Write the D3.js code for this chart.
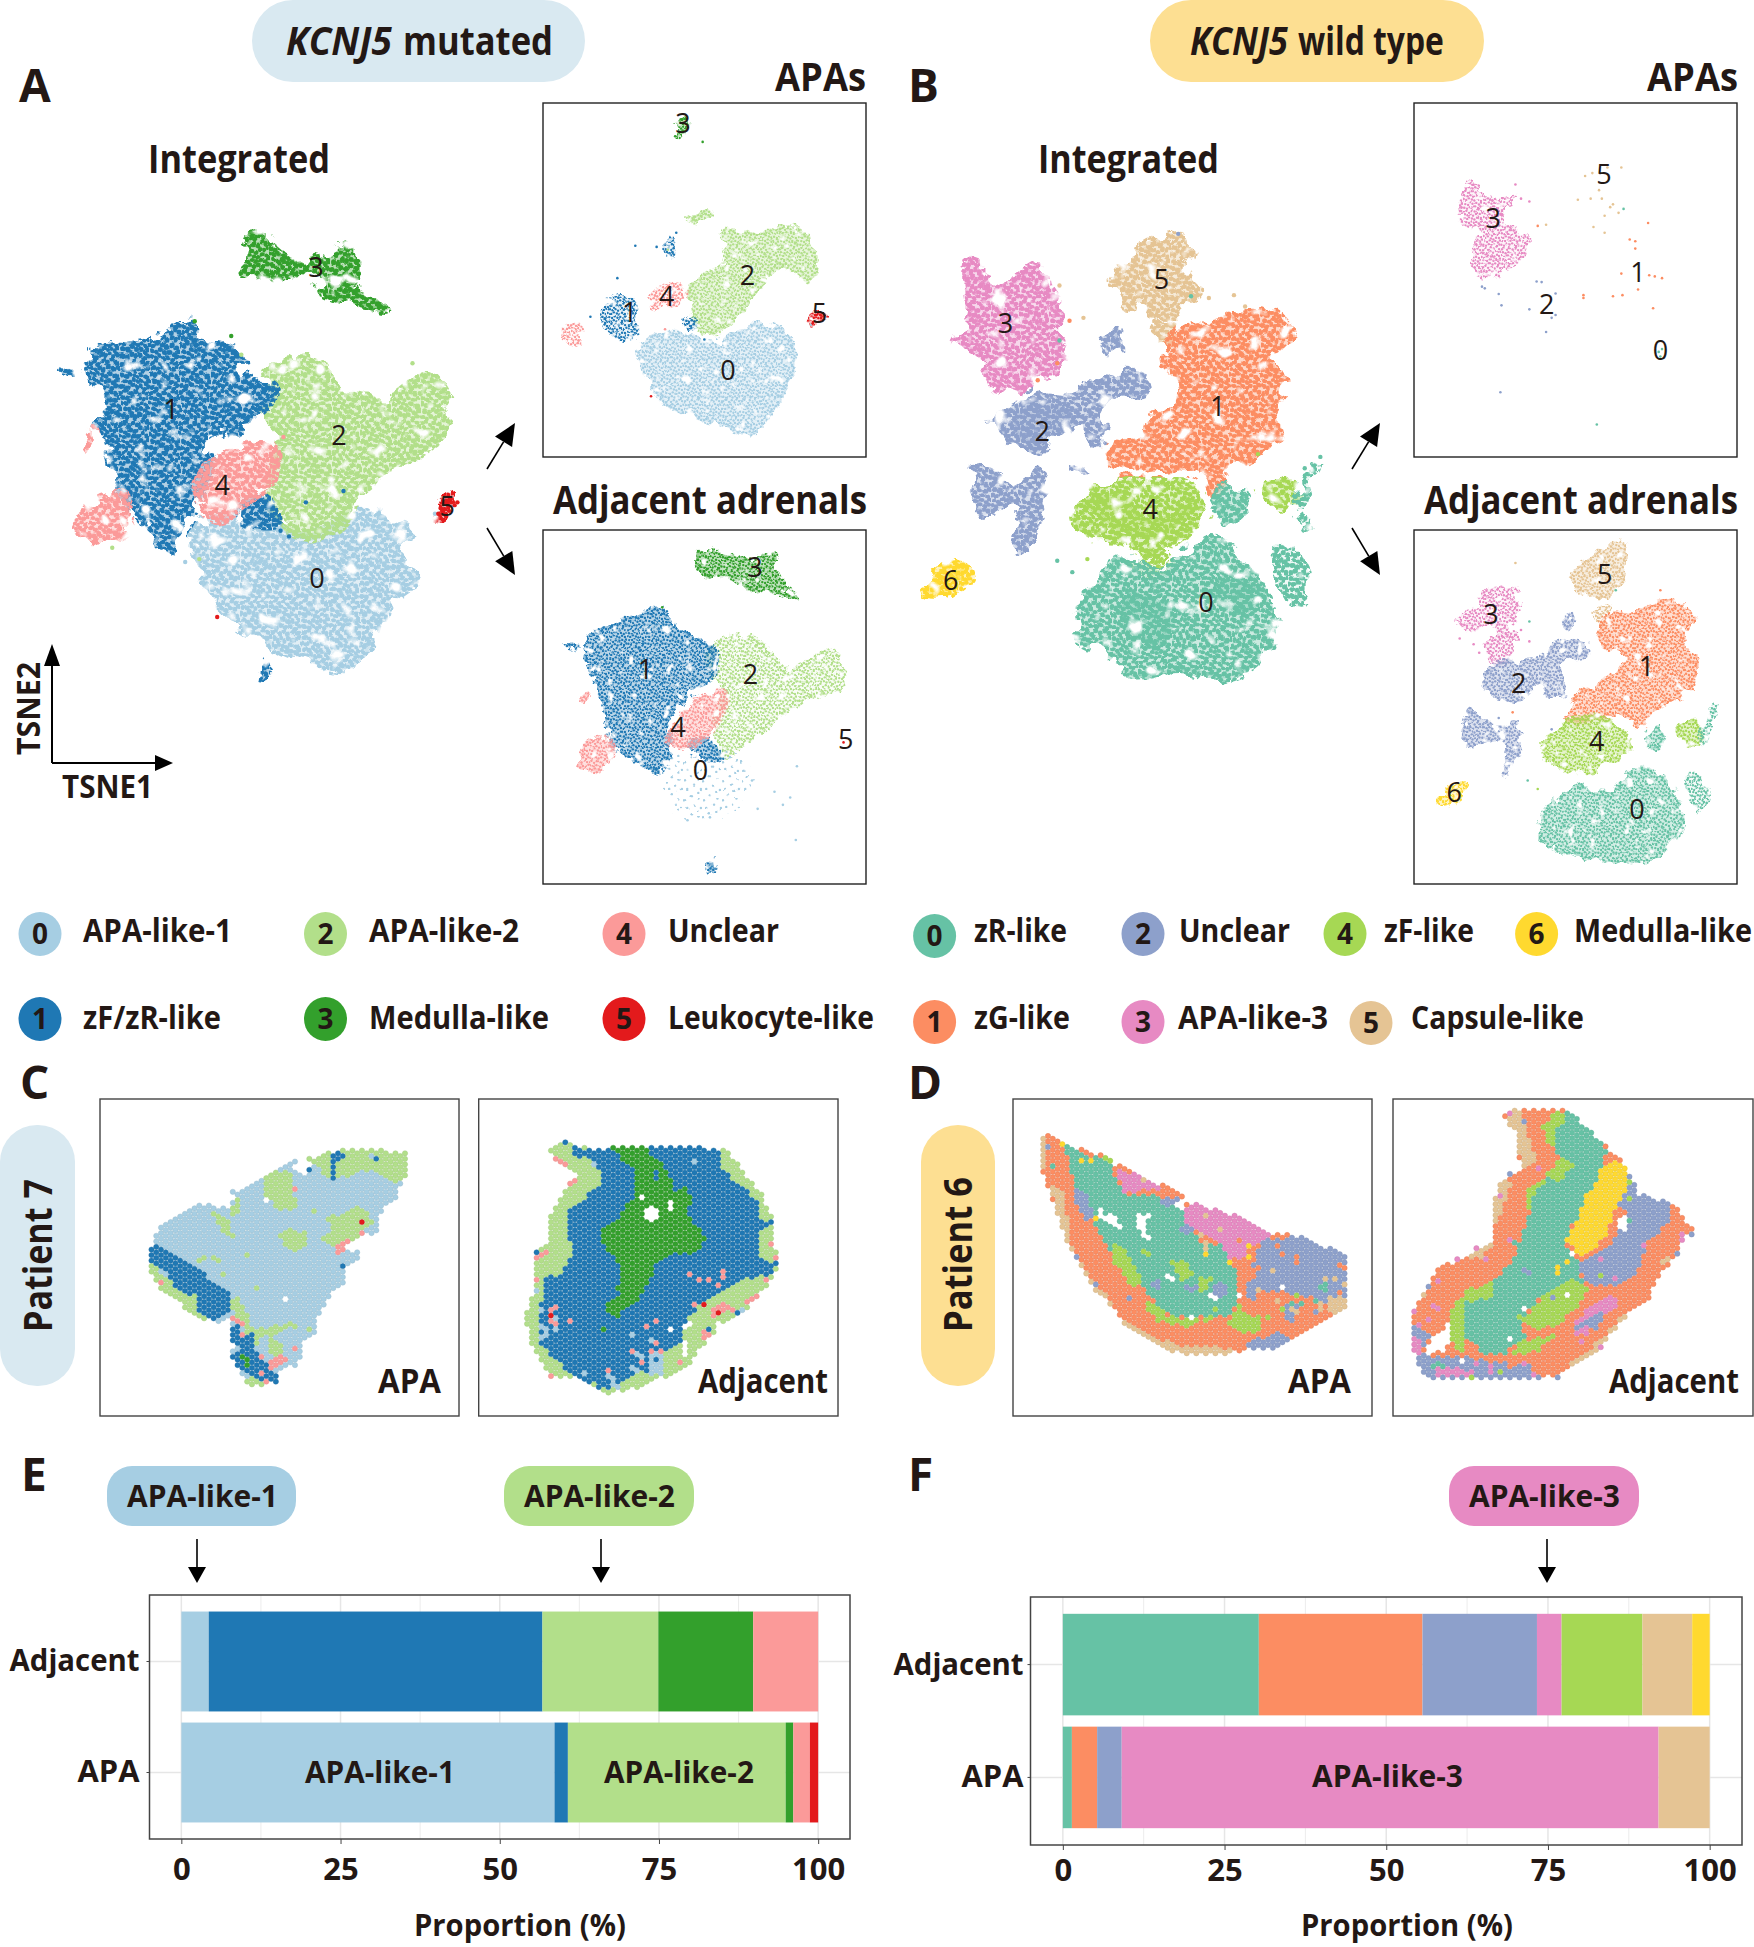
<!DOCTYPE html>
<html><head><meta charset="utf-8">
<script src="https://cdnjs.cloudflare.com/ajax/libs/d3/7.8.5/d3.min.js"></script>
<style>html,body{margin:0;padding:0;background:#fff}svg{display:block}text{font-family:"Open Sans","Noto Sans",sans-serif;fill:#231815}</style>
</head><body><svg id="c" width="1754" height="1947" viewBox="0 0 1754 1947"></svg>
<script>
// ---------- palettes and labels ----------
const mutColors=["#A6CEE3","#1F78B4","#B2DF8A","#33A02C","#FB9A99","#E31A1C"];
const wtColors=["#66C2A5","#FC8D62","#8DA0CB","#E78AC3","#A6D854","#E5C494","#FFD92F"];
const mutNames=["APA-like-1","zF/zR-like","APA-like-2","Medulla-like","Unclear","Leukocyte-like"];
const wtNames=["zR-like","zG-like","Unclear","APA-like-3","zF-like","Capsule-like","Medulla-like"];
// ---------- stacked proportions (%) ----------
const barCategories=["Adjacent","APA"];
const propTicks=[0,25,50,75,100];
const eAdjacent=[4.3,52.4,18.2,14.9,10.2,0];
const eAPA=[58.6,2.1,34.2,1.2,2.6,1.3];
const fAdjacent=[30.3,25.3,17.7,3.8,12.5,7.7,2.7];
const fAPA=[1.4,3.9,3.8,83.0,0,7.9,0];
// ---------- t-SNE cluster regions: [cluster, density, outline] ----------
const mutIntegrated=[
[3,1,[[432,458],[445,415],[475,408],[490,440],[530,460],[575,450],[600,432],[632,440],[637,480],[625,505],[660,520],[690,545],[650,540],[600,525],[570,510],[530,480],[490,490],[445,490]]],
[0,1,[[350,930],[400,910],[500,930],[550,945],[650,900],[730,935],[720,1000],[745,1020],[700,1060],[660,1140],[620,1178],[540,1160],[450,1120],[400,1080],[370,1045]]],
[2,1,[[475,650],[540,625],[590,660],[640,700],[700,700],[760,660],[790,690],[803,750],[760,790],[730,810],[650,860],[600,930],[550,945],[510,925],[480,890],[485,820],[500,770],[470,730],[490,700]]],
[1,1,[[160,640],[180,610],[260,605],[305,575],[335,575],[345,560],[355,600],[400,605],[425,620],[440,670],[485,680],[475,715],[440,745],[420,770],[390,760],[360,780],[375,810],[355,880],[330,930],[310,970],[280,960],[250,910],[215,870],[195,810],[195,770],[170,750],[195,710],[165,680]]],
[1,1,[[108,645],[130,650],[130,662],[115,655]]],
[1,1,[[435,885],[465,880],[495,920],[460,925],[430,910]]],
[1,1,[[462,1197],[476,1165],[474,1195]]],
[4,1,[[365,830],[420,790],[470,775],[490,800],[480,850],[440,880],[390,915],[355,885]]],
[4,1,[[138,930],[175,880],[220,875],[215,955],[175,960],[150,945]]],
[4,1,[[148,790],[163,760],[162,790]]],
[5,1,[[780,890],[800,875],[820,885],[805,912],[780,915]]]];
const mutAPA=[
[0,1,[[1140,600],[1200,585],[1280,600],[1350,570],[1405,590],[1415,650],[1380,720],[1340,765],[1270,745],[1200,720],[1160,680],[1140,630]]],
[2,1,[[1230,500],[1290,465],[1290,405],[1350,410],[1420,400],[1455,450],[1445,495],[1390,470],[1340,530],[1290,580],[1250,585],[1230,540]]],
[2,1,[[1225,385],[1265,372],[1265,388]]],
[1,2,[[1075,540],[1120,520],[1135,570],[1125,600],[1085,585]]],
[1,2,[[1185,425],[1200,420],[1198,450],[1185,445]]],
[1,2,[[1220,565],[1235,565],[1235,580],[1222,578]]],
[4,2,[[1155,535],[1190,500],[1220,510],[1215,530],[1170,545]]],
[4,2,[[1000,590],[1030,568],[1035,605],[1010,600]]],
[3,1,[[1208,212],[1225,210],[1225,230],[1205,240]]],
[5,1,[[1440,570],[1455,545],[1470,555],[1450,575]]]];
const mutAdjacent=[
[3,1,[[1240,993],[1250,968],[1290,975],[1330,985],[1380,975],[1385,1015],[1423,1055],[1380,1045],[1340,1040],[1300,1015],[1260,1015]]],
[2,2,[[1265,1145],[1320,1115],[1375,1150],[1400,1180],[1470,1145],[1490,1150],[1505,1210],[1440,1230],[1380,1270],[1330,1310],[1290,1330],[1275,1270],[1290,1215],[1270,1190]]],
[0,3,[[1190,1330],[1240,1340],[1310,1330],[1340,1380],[1300,1430],[1230,1440],[1195,1420]]],
[1,1,[[1040,1130],[1090,1100],[1150,1080],[1175,1070],[1200,1100],[1250,1130],[1275,1150],[1270,1190],[1230,1225],[1190,1270],[1195,1310],[1175,1360],[1130,1340],[1090,1310],[1075,1240],[1050,1180]]],
[1,1,[[1230,1310],[1260,1305],[1285,1335],[1240,1330]]],
[1,1,[[1005,1133],[1025,1135],[1025,1143]]],
[1,1,[[1263,1535],[1271,1510],[1270,1535]]],
[4,1,[[1190,1300],[1240,1235],[1290,1220],[1280,1270],[1240,1310],[1200,1315]]],
[4,1,[[1030,1345],[1055,1300],[1090,1310],[1080,1355],[1050,1358]]],
[4,1,[[1035,1235],[1045,1215],[1045,1235]]]];
const wtIntegrated=[
[3,1,[[155,465],[175,455],[180,490],[230,500],[285,465],[300,510],[330,560],[320,590],[330,640],[280,670],[240,695],[205,680],[180,630],[135,605],[160,570],[155,530]]],
[5,1,[[420,490],[470,435],[530,415],[560,425],[550,480],[575,500],[560,530],[500,560],[440,535]]],
[5,1,[[495,575],[530,565],[515,610],[505,615]]],
[1,1,[[505,640],[530,590],[600,570],[680,545],[720,565],[742,605],[700,630],[735,675],[710,730],[715,780],[640,820],[600,865],[570,830],[500,830],[420,830],[410,800],[440,770],[510,720],[540,690],[530,660]]],
[2,1,[[200,740],[240,720],[290,690],[350,690],[410,660],[470,660],[475,690],[400,710],[410,770],[385,790],[360,750],[330,760],[290,790],[240,790],[220,765]]],
[2,1,[[240,740],[300,710],[340,740],[300,780],[250,770]]],
[2,1,[[155,880],[175,815],[240,850],[280,830],[300,870],[280,920],[262,975],[245,965],[250,920],[240,890],[180,905]]],
[2,1,[[345,815],[375,835],[350,830]]],
[2,1,[[405,595],[420,580],[430,620],[405,615]]],
[4,1,[[350,905],[380,860],[430,850],[500,850],[550,850],[585,910],[530,950],[490,975],[430,950],[370,945]]],
[4,1,[[370,885],[430,880],[480,920],[560,890],[500,945],[430,930]]],
[4,2,[[450,985],[500,975],[520,990],[490,1010]]],
[4,1,[[685,860],[725,845],[750,880],[720,895]]],
[0,1,[[345,1075],[400,1020],[430,980],[510,1010],[560,960],[610,950],[660,1000],[695,1050],[710,1110],[670,1170],[620,1195],[540,1185],[460,1195],[400,1150],[360,1130]]],
[0,1,[[450,1050],[520,1080],[500,1130],[440,1100]]],
[0,1,[[610,1020],[680,1040],[650,1080],[600,1050]]],
[0,2,[[705,970],[730,965],[770,1025],[745,1070],[715,1015]]],
[0,1,[[605,880],[630,850],[660,880],[640,925],[610,905]]],
[0,2,[[750,870],[790,805],[770,860],[755,905]]],
[0,2,[[745,915],[775,925],[745,925]]],
[6,1,[[78,1048],[110,1005],[165,990],[165,1020],[125,1048]]],
[6,1,[[90,1040],[120,1015],[155,1000],[120,1038]]]];
const wtAPA=[
[3,2,[[1045,340],[1060,320],[1100,350],[1140,345],[1120,385],[1165,425],[1130,470],[1090,490],[1055,460],[1075,400],[1045,395]]]];
const wtAdjacent=[
[3,2,[[1030,1090],[1070,1070],[1085,1040],[1145,1040],[1140,1085],[1110,1120],[1100,1100],[1060,1110]]],
[3,2,[[1090,1130],[1140,1120],[1130,1160],[1100,1170]]],
[5,1,[[1237,1015],[1270,985],[1310,955],[1335,955],[1335,1020],[1300,1055],[1260,1045]]],
[5,2,[[1285,1075],[1310,1070],[1295,1105]]],
[1,1,[[1290,1130],[1300,1090],[1360,1075],[1420,1055],[1465,1090],[1440,1130],[1465,1160],[1450,1220],[1400,1245],[1365,1285],[1340,1260],[1235,1270],[1240,1235],[1310,1190],[1340,1160]]],
[2,1,[[1080,1195],[1120,1165],[1180,1160],[1220,1130],[1270,1135],[1265,1155],[1225,1165],[1230,1220],[1205,1230],[1180,1205],[1140,1240],[1100,1225]]],
[2,1,[[1045,1300],[1060,1250],[1105,1280],[1140,1270],[1150,1300],[1125,1365],[1115,1360],[1120,1310],[1060,1315]]],
[2,1,[[1225,1100],[1240,1080],[1240,1105]]],
[4,1,[[1188,1315],[1220,1280],[1300,1265],[1350,1315],[1300,1350],[1270,1365],[1200,1340]]],
[4,1,[[1428,1285],[1460,1270],[1475,1300],[1450,1315]]],
[0,1,[[1180,1460],[1240,1385],[1310,1395],[1360,1350],[1420,1385],[1440,1450],[1400,1510],[1330,1520],[1240,1505],[1195,1490]]],
[0,2,[[1445,1370],[1465,1365],[1488,1405],[1470,1430],[1450,1400]]],
[0,1,[[1375,1300],[1395,1280],[1405,1310],[1385,1320]]],
[0,2,[[1475,1290],[1500,1240],[1490,1280],[1475,1310]]],
[6,1,[[990,1420],[1025,1385],[1055,1378],[1040,1410],[1010,1420]]]];
// ---------- individually readable cells: [cluster, x, y] ----------
const mutIntegratedCells=[[5,387,1087],[3,347,566],[3,412,592],[2,430,625],[2,735,640],[1,612,865],[1,545,885],[0,775,905],[4,505,770],[2,200,965],[1,515,945],[1,500,935],[2,355,985],[0,330,990],[0,390,1065],[5,785,895],[5,795,882],[5,805,885],[5,815,885],[5,790,905],[5,800,900],[5,781,905],[5,810,890],[5,795,910],[5,803,878]];
const mutAPACells=[[5,1160,698],[1,1132,433],[1,1100,490],[1,1052,558],[1,1170,435],[1,1205,410],[3,1252,250],[3,1203,240],[4,1185,580],[1,1255,598],[2,1190,440],[2,1250,382],[0,1445,572],[5,1450,560],[5,1455,555],[5,1460,550],[5,1448,570],[5,1463,556]];
const mutAdjacentCells=[[5,1503,1308],[0,1418,1480],[0,1408,1405],[0,1395,1418],[0,1420,1350],[0,1350,1425],[0,1225,1445],[0,1265,1440],[0,1340,1375],[0,1380,1395],[2,1445,1225],[3,1180,1070]];
const wtIntegratedCells=[[0,318,988],[0,345,1008],[4,372,985],[5,365,560],[1,340,565],[0,322,600],[1,318,640],[1,283,670],[5,322,503],[5,590,525],[5,635,520],[5,655,540],[0,558,522],[2,535,412],[4,678,800],[0,790,805],[0,762,825]];
const wtAPACells=[[5,1265,310],[5,1278,305],[5,1305,295],[5,1330,295],[5,1252,352],[5,1275,350],[5,1295,350],[5,1310,365],[5,1325,375],[5,1300,380],[5,1280,400],[5,1300,410],[5,1315,360],[5,1290,335],[1,1378,393],[1,1345,422],[1,1355,425],[1,1355,438],[1,1330,482],[1,1380,485],[1,1390,487],[1,1403,490],[1,1360,510],[1,1387,543],[1,1262,520],[1,1262,525],[1,1315,522],[1,1332,520],[2,1080,505],[2,1085,508],[2,1110,518],[2,1115,538],[2,1165,545],[2,1178,496],[2,1187,497],[2,1212,517],[2,1205,560],[2,1212,555],[2,1195,585],[2,1113,691],[0,1334,368],[0,1400,628],[0,1397,620],[0,1403,615],[0,1286,748],[3,1150,350],[3,1165,355],[3,1140,325],[1,1180,398],[5,1195,396]];
const wtAdjacentCells=[[5,1140,992],[0,1165,1095],[0,1162,1375],[4,1180,1390],[1,1135,1255],[2,1205,1285],[2,1110,1265],[0,1320,1040],[1,1400,1040],[3,1040,1125],[3,1065,1135],[3,1075,1150],[3,1165,1130],[3,1150,1110]];
// ---------- cluster-number positions ----------
const mutIntegratedLabels=[[565,1020],[305,722],[604,768],[563,472],[396,855],[797,893]];
const mutAPALabels=[[1297,652],[1122,550],[1332,485],[1217,218],[1188,522],[1460,552]];
const mutAdjacentLabels=[[1248,1358],[1150,1180],[1337,1188],[1345,1000],[1208,1282],[1507,1302]];
const wtIntegratedLabels=[[585,1062],[606,717],[291,760],[225,570],[485,898],[505,493],[127,1022]];
const wtAPALabels=[[1400,618],[1360,480],[1196,537],[1100,385],null,[1299,307],null];
const wtAdjacentLabels=[[1358,1427],[1375,1175],[1146,1205],[1096,1083],[1286,1307],[1300,1013],[1030,1397]];
// ---------- spatial domains: [cluster or null for a hole, outline]; later entries paint over earlier ones ----------
const p7APA=[
[0,[[395,303],[430,295],[490,262],[545,235],[590,212],[600,215],[575,240],[610,255],[640,250],[630,205],[690,185],[760,178],[925,185],[925,250],[905,280],[893,330],[870,340],[840,380],[840,420],[795,440],[755,465],[730,470],[785,490],[770,515],[745,530],[730,590],[700,610],[660,680],[650,730],[620,745],[605,800],[590,830],[550,838],[530,870],[500,885],[470,885],[435,860],[400,810],[395,770],[420,765],[395,745],[390,690],[345,695],[310,680],[265,650],[235,625],[205,610],[170,570],[150,530],[148,490],[165,450],[175,415],[230,375],[265,350],[310,342],[355,350],[395,360],[405,325]]],
[2,[[630,205],[690,185],[760,178],[925,185],[925,250],[905,280],[860,260],[800,240],[740,262],[680,265],[670,240],[640,225]]],
[2,[[490,265],[545,240],[585,245],[580,300],[600,345],[540,368],[515,335],[490,320]]],
[2,[[403,325],[430,330],[425,365],[400,380]]],
[2,[[335,360],[385,380],[390,415],[415,435],[395,445],[370,425],[345,385]]],
[2,[[535,435],[578,410],[630,435],[625,470],[595,490],[565,485],[555,450]]],
[2,[[660,445],[700,430],[700,380],[770,350],[815,375],[825,400],[790,425],[790,440],[740,455],[715,480],[685,465]]],
[2,[[150,520],[190,550],[240,600],[290,620],[295,660],[320,690],[300,682],[265,660],[235,630],[205,620],[165,575]]],
[2,[[395,620],[425,630],[450,680],[465,720],[520,710],[585,695],[590,710],[530,730],[490,745],[470,780],[465,760],[440,720],[405,690]]],
[2,[[500,780],[520,740],[560,770],[545,790],[510,800]]],
[2,[[430,860],[470,860],[505,880],[470,892],[440,875]]],
[1,[[145,490],[165,450],[180,470],[290,530],[335,570],[390,610],[395,670],[345,700],[330,680],[290,660],[290,615],[250,610],[215,570],[185,530],[150,515]]],
[1,[[392,700],[415,705],[425,730],[460,725],[465,780],[500,820],[535,850],[530,878],[500,882],[470,865],[435,850],[400,810],[395,790],[425,775],[395,745]]],
[1,[[685,203],[715,188],[738,200],[715,213],[715,268],[698,268],[698,213]]],
[1,[[612,240],[635,230],[658,245],[620,252]]],
[4,[[503,810],[540,788],[562,805],[550,830],[512,848]]],
[4,[[712,455],[730,455],[745,480],[718,497]]],
[null,[[498,330],[530,320],[515,340]]]];
const p7APASpots=[[593,304,4],[833,206,1],[792,392,5],[792,437,4],[750,459,4],[737,526,1],[184,581,4],[553,623,null],[397,692,4],[411,700,4],[425,707,4],[425,737,4],[483,797,4],[582,773,4],[484,856,4],[498,878,4],[426,797,3],[440,804,3],[440,818,3],[438,491,2],[368,558,2],[467,596,2],[624,722,2],[650,364,2],[692,385,2],[820,198,0],[310,498,2],[296,506,2],[340,498,2],[354,506,2]];
const p7Adj=[
[2,[[215,180],[245,158],[265,152],[285,168],[330,175],[520,172],[600,165],[660,170],[720,182],[755,180],[760,200],[790,235],[810,270],[850,305],[862,350],[890,375],[885,420],[890,480],[905,495],[905,535],[885,560],[860,595],[815,650],[770,680],[720,700],[700,740],[670,775],[640,815],[580,850],[520,880],[430,905],[370,915],[345,885],[290,865],[220,855],[185,815],[165,770],[145,710],[145,660],[165,620],[170,530],[170,490],[215,460],[215,385],[245,325],[275,285],[300,265],[250,215],[225,205]]],
[1,[[270,170],[330,175],[520,172],[600,165],[660,170],[725,185],[730,225],[760,270],[800,290],[845,340],[850,380],[880,400],[850,420],[845,500],[890,530],[885,560],[850,550],[800,570],[730,610],[660,650],[640,680],[620,700],[615,750],[560,780],[560,820],[510,840],[450,870],[400,895],[365,895],[345,880],[290,860],[225,800],[185,760],[185,680],[200,570],[250,545],[285,490],[270,440],[275,350],[305,335],[370,285],[370,240],[330,205],[290,195]]],
[3,[[400,170],[510,172],[515,195],[555,215],[565,250],[590,270],[590,300],[625,295],[645,320],[620,370],[640,390],[670,420],[685,450],[655,490],[590,490],[530,515],[530,555],[500,590],[485,640],[440,650],[415,685],[390,670],[390,640],[430,620],[415,590],[435,555],[420,520],[385,475],[360,460],[370,425],[430,375],[465,320],[470,240],[430,205]]],
[1,[[518,228],[540,235],[545,275],[530,275]]],
[3,[[372,703],[387,703],[387,730],[372,730]]],
[0,[[470,775],[495,795],[495,812],[478,810]]],
[0,[[517,735],[533,737],[533,765],[517,765]]],
[0,[[520,790],[555,770],[555,850],[520,855]]],
[0,[[378,852],[415,857],[420,888],[438,893],[410,896]]],
[0,[[178,700],[215,705],[210,745],[190,750]]],
[4,[[800,640],[860,590],[860,525],[835,510],[850,520],[868,570],[820,645]]],
[4,[[700,680],[770,660],[740,625],[710,650]]],
[4,[[665,770],[700,740],[680,710],[665,740]]],
[4,[[580,845],[640,810],[610,810]]],
[null,[[500,365],[520,345],[545,365],[540,395],[515,400],[500,385]]],
[null,[[572,330],[585,330],[585,358],[572,358]]],
[null,[[620,710],[650,690],[640,700],[628,720]]],
[null,[[620,750],[632,750],[635,795],[620,795]]]];
const p7AdjSpots=[[262,157,1],[233,204,4],[248,211,4],[262,218,4],[347,218,0],[650,209,0],[277,285,4],[291,277,4],[177,487,1],[177,502,4],[191,495,4],[205,487,4],[177,562,4],[178,606,0],[192,659,0],[222,674,5],[222,659,4],[236,651,4],[236,681,0],[222,688,4],[236,695,4],[278,688,4],[236,725,0],[638,559,4],[666,574,4],[694,574,4],[738,551,4],[738,566,4],[725,590,4],[652,641,4],[681,641,5],[725,664,5],[537,687,4],[509,717,4],[581,722,null],[492,321,null],[465,739,0],[396,836,4],[322,844,0],[222,852,4],[881,401,1],[896,497,4],[896,513,1],[881,462,4],[782,662,1],[796,656,0],[696,722,1],[539,805,1],[553,784,4],[538,760,4],[466,785,4],[495,815,4],[524,785,4],[466,830,0],[480,838,0],[193,733,1]];
const p6APA=[
[1,[[85,145],[108,130],[150,155],[260,200],[340,235],[440,280],[510,310],[510,335],[490,345],[530,335],[680,380],[780,430],[880,440],[1005,500],[1008,650],[960,675],[900,715],[840,755],[790,775],[660,785],[540,795],[470,775],[400,740],[340,700],[290,640],[240,590],[195,510],[160,450],[130,350],[100,270],[85,230]]],
[5,[[85,145],[100,145],[100,235],[85,235]]],
[5,[[115,290],[160,300],[150,355],[175,400],[165,465],[190,480],[215,520],[230,570],[285,610],[320,680],[370,710],[430,745],[520,770],[670,775],[640,790],[540,798],[470,780],[400,742],[340,702],[290,642],[240,592],[195,512],[160,452],[130,352],[115,300]]],
[0,[[155,165],[260,205],[300,225],[310,260],[330,310],[440,320],[510,360],[515,400],[560,450],[640,470],[680,560],[680,640],[640,680],[560,680],[480,680],[430,640],[390,590],[340,540],[290,480],[270,450],[245,400],[220,330],[185,290],[175,220]]],
[3,[[315,230],[440,285],[480,300],[440,295],[390,295],[350,310],[330,305]]],
[3,[[515,360],[535,335],[680,380],[780,430],[745,465],[720,470],[690,515],[650,500],[630,460],[590,440],[545,420],[520,400]]],
[2,[[700,600],[750,450],[880,440],[1005,500],[1008,650],[960,640],[880,620],[800,600],[770,620],[740,650],[700,620]]],
[2,[[700,760],[800,730],[840,750],[790,775],[700,775]]],
[1,[[745,600],[800,605],[860,625],[880,620],[960,640],[930,680],[860,720],[800,710],[780,680],[720,640]]],
[5,[[940,650],[1005,610],[1005,650],[960,675]]],
[2,[[815,640],[860,640],[850,700],[815,690]]],
[2,[[940,600],[1005,560],[1005,575],[950,620]]],
[0,[[925,600],[945,560],[950,600],[930,620]]],
[2,[[500,420],[520,400],[545,420],[530,435]]],
[2,[[430,330],[510,320],[500,350],[450,345]]],
[4,[[295,470],[330,460],[350,490],[390,570],[360,600],[330,540],[300,510]]],
[4,[[380,480],[420,480],[430,500],[385,500]]],
[4,[[470,510],[530,510],[540,550],[510,570]]],
[4,[[550,560],[600,560],[590,610],[560,600]]],
[4,[[400,620],[450,650],[470,680],[560,690],[600,670],[615,650],[600,690],[520,710],[430,690],[400,650]]],
[4,[[650,700],[680,640],[700,670],[750,680],[740,725],[670,725]]],
[2,[[185,295],[235,320],[240,380],[215,390],[180,320]]],
[2,[[430,540],[445,600],[420,590]]],
[2,[[520,590],[560,590],[540,610]]],
[2,[[600,580],[650,580],[640,620],[610,620]]],
[null,[[245,352],[265,355],[270,375],[300,365],[320,380],[325,415],[300,415],[270,380],[245,365]]],
[null,[[372,375],[415,375],[395,400],[415,450],[400,450],[375,410]]],
[null,[[460,545],[510,570],[505,578],[460,560]]],
[null,[[590,610],[625,628],[620,635],[585,620]]],
[null,[[670,610],[695,620],[695,630],[670,620]]],
[null,[[800,645],[825,655],[820,662],[797,655]]],
[null,[[810,590],[825,595],[820,605],[810,600]]],
[null,[[528,682],[543,682],[543,692],[528,692]]],
[null,[[490,345],[520,335],[520,360],[495,355]]],
[null,[[100,222],[115,222],[115,232],[100,232]]]];
const p6APASpots=[[150,160,6],[207,204,6],[235,204,6],[250,384,6],[576,491,6],[647,512,6],[717,476,6],[717,505,6],[391,267,5],[575,375,5],[618,425,5],[562,440,5],[575,462,5],[575,476,5],[788,540,5],[263,202,1],[122,232,0],[108,167,2],[278,210,4],[292,217,4],[675,455,1],[802,475,1],[816,497,1],[858,505,1],[858,520,1],[945,575,5],[350,622,2],[252,588,2],[195,500,2],[800,510,2],[960,620,5],[985,640,5],[1000,590,5],[930,640,5],[905,640,5],[860,660,5],[845,655,5],[905,665,2],[920,655,5],[985,520,1],[1000,535,1],[985,605,1],[1000,620,2],[972,575,5],[930,590,0],[916,625,0],[875,635,0],[845,640,0],[860,620,4],[805,662,4],[775,690,4],[790,640,5],[746,605,5],[760,610,1],[690,592,1],[718,560,1],[730,545,1],[745,530,1]];
const p6Adj=[
[1,[[332,72],[360,55],[485,55],[530,60],[600,130],[660,185],[700,225],[720,270],[740,310],[830,335],[860,355],[885,400],[905,420],[885,440],[860,480],[830,525],[795,570],[770,625],[700,680],[640,755],[590,800],[510,850],[440,865],[130,865],[85,845],[65,790],[65,660],[110,575],[130,540],[240,490],[300,450],[310,400],[310,330],[320,280],[385,240],[375,140],[355,100]]],
[5,[[340,70],[390,55],[400,125],[425,175],[430,225],[385,240],[378,140],[350,100]]],
[5,[[325,280],[360,270],[340,320],[335,370],[310,400],[305,330]]],
[5,[[225,495],[300,450],[310,465],[260,510]]],
[0,[[500,65],[530,60],[600,130],[650,180],[625,230],[620,275],[590,310],[570,370],[530,420],[520,470],[560,520],[575,590],[520,580],[450,620],[410,660],[380,690],[400,740],[340,790],[280,790],[220,745],[215,640],[265,600],[330,545],[375,490],[395,420],[420,340],[420,300],[480,260],[510,230],[490,180],[490,100]]],
[4,[[450,110],[490,65],[530,90],[495,110],[490,170],[510,175],[470,170]]],
[4,[[410,300],[480,240],[510,200],[550,225],[520,250],[510,270],[470,265],[430,300],[420,340],[410,360]]],
[4,[[180,650],[230,600],[300,570],[300,620],[220,640],[220,740],[210,785],[185,770],[170,690]]],
[4,[[450,625],[540,560],[590,600],[560,650],[500,700],[440,720],[380,690],[370,680],[410,670]]],
[4,[[345,790],[400,750],[460,740],[495,730],[440,785],[390,790]]],
[2,[[560,520],[650,470],[690,400],[700,360],[680,340],[710,250],[740,310],[830,335],[830,400],[770,450],[750,510],[720,570],[650,590],[600,580],[575,560]]],
[6,[[625,235],[670,205],[710,240],[695,320],[670,350],[640,440],[600,480],[560,495],[525,450],[530,420],[570,385],[565,365],[585,310],[625,270]]],
[2,[[65,700],[125,740],[90,770],[65,770]]],
[2,[[65,790],[125,800],[200,800],[340,820],[440,830],[440,865],[130,865],[85,845]]],
[3,[[610,640],[650,610],[680,640],[620,700],[560,740],[590,770],[560,760],[540,700]]],
[3,[[65,740],[90,740],[90,790],[65,790]]],
[3,[[130,825],[180,840],[250,840],[250,860],[130,860]]],
[0,[[120,825],[165,815],[160,830],[125,835]]],
[2,[[540,720],[590,690],[620,660],[640,690],[610,720],[570,710]]],
[5,[[540,810],[590,780],[640,740],[690,680],[770,630],[770,570],[780,570],[770,625],[700,680],[640,755],[590,800],[540,830]]],
[null,[[95,770],[130,740],[170,695],[180,700],[175,750],[150,785],[100,795]]],
[null,[[680,390],[695,372],[710,400],[700,420],[680,410]]],
[null,[[200,805],[225,800],[220,812],[195,815]]],
[null,[[395,650],[410,645],[410,670],[395,672]]],
[null,[[525,610],[540,610],[540,620],[525,620]]],
[null,[[352,742],[365,742],[365,752],[352,752]]],
[null,[[535,488],[552,488],[552,498],[535,498]]]];
const p6AdjSpots=[[905,425,2],[353,256,2],[325,314,3],[355,68,3],[397,90,2],[442,227,3],[371,450,0],[356,443,3],[631,507,3],[631,550,4],[675,570,3],[717,275,4],[717,333,4],[715,390,0],[502,527,6],[502,541,6],[530,514,6],[487,621,2],[417,556,2],[402,535,2],[285,508,3],[256,478,3],[200,500,3],[142,566,3],[112,598,2],[97,617,5],[100,680,1],[127,645,3],[300,850,3],[420,835,1],[490,855,2],[760,470,3],[850,495,2],[875,440,3],[875,455,3],[832,505,5],[818,515,5],[71,660,3],[85,700,3],[114,692,3],[142,650,3],[170,840,3],[200,845,3],[243,860,4],[258,825,3],[300,825,3],[330,840,4],[360,830,1],[390,825,3],[420,850,3],[445,850,1],[475,840,1],[560,695,3],[590,735,3],[620,770,3]];

// ---------- page ----------
const svg=d3.select("#c");
const defs=svg.append("defs");
const INK="#231815";
function fit(t,x,y,len,rot){ // squeeze a text to a measured width without overrunning its box
  const nat=t.node().getComputedTextLength();
  const sx=len?len/nat:1;
  t.attr("x",0).attr("y",0).attr("transform",`translate(${x},${y})${rot!=null?` rotate(${rot})`:""} scale(${sx},1)`);
}
function T(x,y,s,size,opt={}){ // y = baseline
  const t=svg.append("text").attr("font-size",size)
   .attr("font-weight",opt.w||700).attr("text-anchor",opt.a||"start").text(s);
  if(opt.i)t.attr("font-style","italic");
  fit(t,x,y,opt.len,opt.rot);
  return t;
}
// zoomed-reading scales -> page pixels
const mx=d3.scaleLinear().domain([0,1568]).range([0,880]);
const my=d3.scaleLinear().domain([0,1568]).range([0,890]);
const wx=d3.scaleLinear().domain([0,1568]).range([880,1754]);
const tileDots=[[.05,.12],[.18,.04],[.32,.15],[.46,.06],[.61,.13],[.76,.03],[.9,.11],[.1,.28],[.24,.33],[.39,.27],[.53,.35],[.68,.26],[.83,.31],[.97,.25],[.03,.47],[.17,.52],[.31,.44],[.47,.5],[.6,.55],[.74,.46],[.89,.53],[.12,.69],[.27,.74],[.41,.65],[.55,.72],[.7,.68],[.84,.76],[.95,.66],[.07,.88],[.21,.93],[.36,.85],[.5,.92],[.64,.86],[.79,.95],[.92,.87]];
const made=new Set();
function pattern(col,big,d){
  const id=`p${col.slice(1)}${big?"b":"s"}${d}`;
  if(made.has(id))return id; made.add(id);
  const S=big?30:19, r=big?2.5:1.2;
  const p=defs.append("pattern").attr("id",id).attr("patternUnits","userSpaceOnUse").attr("width",S).attr("height",S);
  p.selectAll("circle").data(tileDots.filter((_,i)=>d<3||i%5===0)).join("circle")
    .attr("cx",q=>q[0]*S).attr("cy",q=>q[1]*S).attr("r",r).attr("fill",col);
  return id;
}
function pageFilter(id){
  return defs.append("filter").attr("id",id).attr("filterUnits","userSpaceOnUse")
    .attr("x",0).attr("y",0).attr("width",1754).attr("height",1947).attr("color-interpolation-filters","sRGB");
}
function edgeFilter(id,freq,scale,seed){ // lobed cluster edges, a few thin pockets
  const f=pageFilter(id);
  f.append("feTurbulence").attr("type","fractalNoise").attr("baseFrequency",freq).attr("numOctaves",3).attr("seed",seed).attr("result","n");
  f.append("feDisplacementMap").attr("in","SourceGraphic").attr("in2","n").attr("scale",scale).attr("xChannelSelector","R").attr("yChannelSelector","G").attr("result","d");
  f.append("feTurbulence").attr("type","fractalNoise").attr("baseFrequency",freq*1.3).attr("numOctaves",2).attr("seed",seed+5).attr("result","m");
  f.append("feColorMatrix").attr("in","m").attr("type","matrix").attr("values","0 0 0 0 0  0 0 0 0 0  0 0 0 0 0  7 0 0 0 -1.7").attr("result","mask");
  f.append("feComposite").attr("in","d").attr("in2","mask").attr("operator","in");
}
function dotFilter(id,freq,scale,seed){ // breaks up the repeat of the dot tile
  const f=pageFilter(id);
  f.append("feTurbulence").attr("type","fractalNoise").attr("baseFrequency",freq).attr("numOctaves",1).attr("seed",seed).attr("result","n");
  f.append("feDisplacementMap").attr("in","SourceGraphic").attr("in2","n").attr("scale",scale).attr("xChannelSelector","R").attr("yChannelSelector","G");
}
edgeFilter("edgeB",.045,34,3); edgeFilter("edgeS",.08,20,8);
dotFilter("dotB",.05,11,11); dotFilter("dotS",.08,6,12);
const curve=d3.line().curve(d3.curveCatmullRomClosed.alpha(.5));
let maskN=0;
function scatter(shapes,cells,labels,cols,X,big){
  const line=curve.x(p=>X(p[0])).y(p=>my(p[1]));
  const mid=`mask${maskN++}`;
  const mg=defs.append("mask").attr("id",mid).attr("maskUnits","userSpaceOnUse").attr("x",0).attr("y",0).attr("width",1754).attr("height",1947)
    .append("g").attr("filter",`url(#${big?"edgeB":"edgeS"})`);
  const outer=svg.append("g").attr("mask",`url(#${mid})`);
  const g=outer.append("g").attr("filter",`url(#${big?"dotB":"dotS"})`);
  const under=big?[0,.34,.1,0]:[0,.3,.08,0];
  const grow=big?12:7;
  shapes.forEach(([c,d,pts])=>{
    const col=cols[c], path=line(pts);
    mg.append("path").attr("d",path).attr("fill","#fff").attr("stroke","#fff").attr("stroke-width",big?3:1.5);
    const pat=`url(#${pattern(col,big,d)})`;
    if(under[d]>0)g.append("path").attr("d",path).attr("fill",col).attr("fill-opacity",under[d]).attr("stroke",col).attr("stroke-opacity",under[d]).attr("stroke-width",grow/2);
    g.append("path").attr("d",path).attr("fill",pat).attr("stroke",pat).attr("stroke-width",grow);
  });
  svg.append("g").selectAll("circle").data(cells).join("circle")
    .attr("cx",d=>X(d[1])).attr("cy",d=>my(d[2])).attr("r",big?2.2:1.3).attr("fill",d=>cols[d[0]]);
  labels.forEach((p,i)=>{ if(!p)return;
    T(X(p[0]),my(p[1])+9.5,String(i),27,{w:400,a:"middle"}).attr("fill","#111");
  });
}
function frame(x0,y0,x1,y1,col,w){
  svg.append("rect").attr("x",x0).attr("y",y0).attr("width",x1-x0).attr("height",y1-y0)
   .attr("fill","none").attr("stroke",col||"#222").attr("stroke-width",w||1.4);
}
function arrow(x1,y1,x2,y2,hl,hw,sw){
  const a=Math.atan2(y2-y1,x2-x1),c=Math.cos(a),s=Math.sin(a);
  const bx=x2-hl*c,by=y2-hl*s;
  svg.append("line").attr("x1",x1).attr("y1",y1).attr("x2",bx).attr("y2",by).attr("stroke","#000").attr("stroke-width",sw||1.6);
  svg.append("path").attr("d",`M${x2},${y2}L${bx-s*hw/2},${by+c*hw/2}L${bx+s*hw/2},${by-c*hw/2}Z`).attr("fill","#000");
}
function pill(x0,y0,x1,y1,r,fill){
  svg.append("rect").attr("x",x0).attr("y",y0).attr("width",x1-x0).attr("height",y1-y0).attr("rx",r).attr("ry",r).attr("fill",fill);
}
// top pills and headings
pill(252,0,585,82,41,"#D9E9F1"); pill(1150,0,1484,82,41,"#FDDF92");
T(286,55,"KCNJ5",39,{i:1,len:106}); T(403,55,"mutated",39,{len:150});
T(1190,55,"KCNJ5",39,{i:1,len:98}); T(1298,55,"wild type",39,{len:146});
[["A",19,102],["B",908,102],["C",20,1099],["D",908,1099],["E",21,1491],["F",908,1491]].forEach(d=>T(d[1],d[2],d[0],46));
T(148,173,"Integrated",40,{len:182}); T(1038,173,"Integrated",40,{len:181});
T(866,91,"APAs",39,{a:"end",len:91}); T(1738,91,"APAs",39,{a:"end",len:91});
T(553,514,"Adjacent adrenals",39,{len:314}); T(1424,514,"Adjacent adrenals",39,{len:314});
frame(543,103,866,457); frame(543,530,866,884); frame(1414,103,1737,457); frame(1414,530,1737,884);
// scatter panels
scatter(mutIntegrated,mutIntegratedCells,mutIntegratedLabels,mutColors,mx,true);
scatter(mutAPA,mutAPACells,mutAPALabels,mutColors,mx,false);
scatter(mutAdjacent,mutAdjacentCells,mutAdjacentLabels,mutColors,mx,false);
scatter(wtIntegrated,wtIntegratedCells,wtIntegratedLabels,wtColors,wx,true);
scatter(wtAPA,wtAPACells,wtAPALabels,wtColors,wx,false);
scatter(wtAdjacent,wtAdjacentCells,wtAdjacentLabels,wtColors,wx,false);
// tsne axes
arrow(52,763,52,644,22,16,2); arrow(52,763,173,763,18,16,2);
T(40,755,"TSNE2",32,{rot:-90,len:93}); T(62,798,"TSNE1",32,{len:91});
arrow(487,469,515,423,22,20); arrow(487,528,515,575,22,20);
arrow(1352,469,1380,423,22,20); arrow(1352,528,1380,575,22,20);
// legends
function legend(x,y,c,i,name,tx,len,ty){
  svg.append("ellipse").attr("cx",x).attr("cy",y).attr("rx",21.5).attr("ry",22).attr("fill",c);
  T(x,y+10,String(i),28,{a:"middle",w:700});
  T(tx,ty,name,32,{len,w:700});
}
[[40,934,0,83,149,942],[40,1019,1,83,138,1029],[325.5,934,2,369,150,942],[325.5,1019,3,369,180,1029],[624,934,4,668,111,942],[624,1019,5,668,206,1029]]
 .forEach(d=>legend(d[0],d[1],mutColors[d[2]],d[2],mutNames[d[2]],d[3],d[4],d[5]));
[[934.6,936,0,974,93,942],[934.6,1022,1,974,96,1029],[1143,934,2,1179,111,942],[1143,1022,3,1178,150,1029],[1345,934,4,1384,90,942],[1371,1023,5,1411,173,1029],[1536.6,934,6,1574,178,942]]
 .forEach(d=>legend(d[0],d[1],wtColors[d[2]],d[2],wtNames[d[2]],d[3],d[4],d[5]));
// patient pills
pill(0,1125,75,1386,37,"#D9E9F1"); pill(921,1125,995,1386,37,"#FDDF92");
T(52,1332,"Patient 7",39,{rot:-90,len:153}); T(972,1332,"Patient 6",39,{rot:-90,len:155});
// spatial spots
function spots(layers,singles,ox,oy,anchor,cols){
  const sx=d3.scaleLinear().domain([0,1080]).range([ox,ox+360]);
  const sy=d3.scaleLinear().domain([0,1080]).range([oy,oy+360]);
  const dx=14.35,dy=16.5;
  const cells=new Map();
  const base=layers[0][1];
  const [xa,xb]=d3.extent(base,p=>p[0]),[ya,yb]=d3.extent(base,p=>p[1]);
  for(let i=Math.floor((xa-anchor[0])/dx)-1;i*dx+anchor[0]<=xb+dx;i++){
    const x=anchor[0]+i*dx, off=((i%2)+2)%2?dy/2:0;
    for(let j=Math.floor((ya-anchor[1])/dy)-1;j*dy+anchor[1]<=yb+dy;j++){
      const y=anchor[1]+j*dy+off;
      let v;
      for(let k=layers.length-1;k>=0;k--){
        if(d3.polygonContains(layers[k][1],[x,y])){v=layers[k][0];break;}
      }
      if(v!==undefined&&v!==null)cells.set(i+"_"+j,[x,y,v]);
    }
  }
  singles.forEach(([sxv,syv,v])=>{
    const i=Math.round((sxv-anchor[0])/dx), off=((i%2)+2)%2?dy/2:0;
    const j=Math.round((syv-anchor[1]-off)/dy);
    if(v===null)cells.delete(i+"_"+j);
    else cells.set(i+"_"+j,[anchor[0]+i*dx,anchor[1]+j*dy+off,v]);
  });
  svg.append("g").selectAll("circle").data([...cells.values()]).join("circle")
    .attr("cx",d=>sx(d[0])).attr("cy",d=>sy(d[1])).attr("r",2.65).attr("fill",d=>cols[d[2]])
    .attr("stroke",d=>d3.color(cols[d[2]]).darker(.35)).attr("stroke-width",.4);
}
frame(100,1099,459,1416,"#444"); frame(478.7,1099,838,1416,"#444"); frame(1013,1099,1372,1416,"#444"); frame(1393,1099,1753,1416,"#444");
spots(p7APA,p7APASpots,99,1090,[918,190],mutColors);
spots(p7Adj,p7AdjSpots,478,1090,[262,157],mutColors);
spots(p6APA,p6APASpots,1012,1090,[108,138],wtColors);
spots(p6Adj,p6AdjSpots,1392,1090,[368,62],wtColors);
T(378,1393,"APA",34,{len:63}); T(698,1393,"Adjacent",34,{len:130}); T(1288,1393,"APA",34,{len:63}); T(1609,1393,"Adjacent",34,{len:130});
// bar charts
function bars(box,adj,apa,cols,inner,barBand,xPad,yPad){
  const [L,Tp,R,B]=box;
  const x=d3.scaleLinear().domain([-5,105]).range([L,R]);
  const y=d3.scaleBand().domain(barCategories).range([Tp,B]).paddingInner(.1).paddingOuter(barBand);
  const g=svg.append("g");
  [12.5,37.5,62.5,87.5].forEach(v=>g.append("line").attr("x1",x(v)).attr("x2",x(v)).attr("y1",Tp).attr("y2",B).attr("stroke","#ececec").attr("stroke-width",1));
  propTicks.forEach(v=>g.append("line").attr("x1",x(v)).attr("x2",x(v)).attr("y1",Tp).attr("y2",B).attr("stroke","#e6e6e6").attr("stroke-width",1.5));
  barCategories.forEach(k=>g.append("line").attr("x1",L).attr("x2",R).attr("y1",y(k)+y.bandwidth()/2).attr("y2",y(k)+y.bandwidth()/2).attr("stroke","#e6e6e6").attr("stroke-width",1.5));
  const keys=d3.range(cols.length);
  const rows=[adj,apa].map((v,i)=>Object.assign({cat:barCategories[i]},v));
  d3.stack().keys(keys)(rows).forEach(ser=>{
    g.selectAll(null).data(ser).join("rect").attr("x",d=>x(d[0])).attr("width",d=>x(d[1])-x(d[0]))
      .attr("y",d=>y(d.data.cat)).attr("height",y.bandwidth()).attr("fill",cols[ser.key]);
  });
  frame(L,Tp,R,B,"#444",1.5);
  const ax=svg.append("g").attr("transform",`translate(0,${B})`).call(d3.axisBottom(x).tickValues(propTicks).tickSize(5).tickPadding(xPad));
  ax.select(".domain").remove(); ax.selectAll("line").attr("stroke","#444");
  ax.selectAll("text").attr("font-size",31).attr("font-weight",700).attr("fill",INK);
  const ay=svg.append("g").attr("transform",`translate(${L},0)`).call(d3.axisLeft(y).tickSize(3).tickPadding(yPad));
  ay.select(".domain").remove(); ay.selectAll("line").attr("stroke","#444");
  ay.selectAll("text").attr("font-size",31).attr("font-weight",700).attr("fill",INK)
    .each(function(d){ const t=d3.select(this), nat=this.getComputedTextLength(), ax0=+t.attr("x");
      t.attr("x",0).attr("transform",`translate(${ax0},0) scale(${(d==="APA"?62:130)/nat},1)`); });
  inner.forEach(d=>T(d[1],y("APA")+y.bandwidth()/2+10,d[0],31,{len:d[2],w:700}));
}
bars([149.5,1595,850,1839],eAdjacent,eAPA,mutColors,[["APA-like-1",305,150],["APA-like-2",604,150]],.149,14,7);
bars([1030.5,1597,1742,1845],fAdjacent,fAPA,wtColors,[["APA-like-3",1312,151]],.149,9,4);
pill(107,1466,296,1526,25,"#A6CEE3"); pill(504,1466,694,1526,25,"#B2DF8A"); pill(1449,1466,1639,1526,25,"#E78AC3");
T(127,1507,"APA-like-1",31,{len:151,w:700}); T(524,1507,"APA-like-2",31,{len:151,w:700}); T(1469,1507,"APA-like-3",31,{len:151,w:700});
arrow(197,1539,197,1583,16,18,1.6); arrow(601,1539,601,1583,16,18,1.6); arrow(1547,1539,1547,1583,16,18,1.6);
T(414,1936,"Proportion (%)",30,{len:212,w:700}); T(1301,1936,"Proportion (%)",30,{len:212,w:700});
</script></body></html>
